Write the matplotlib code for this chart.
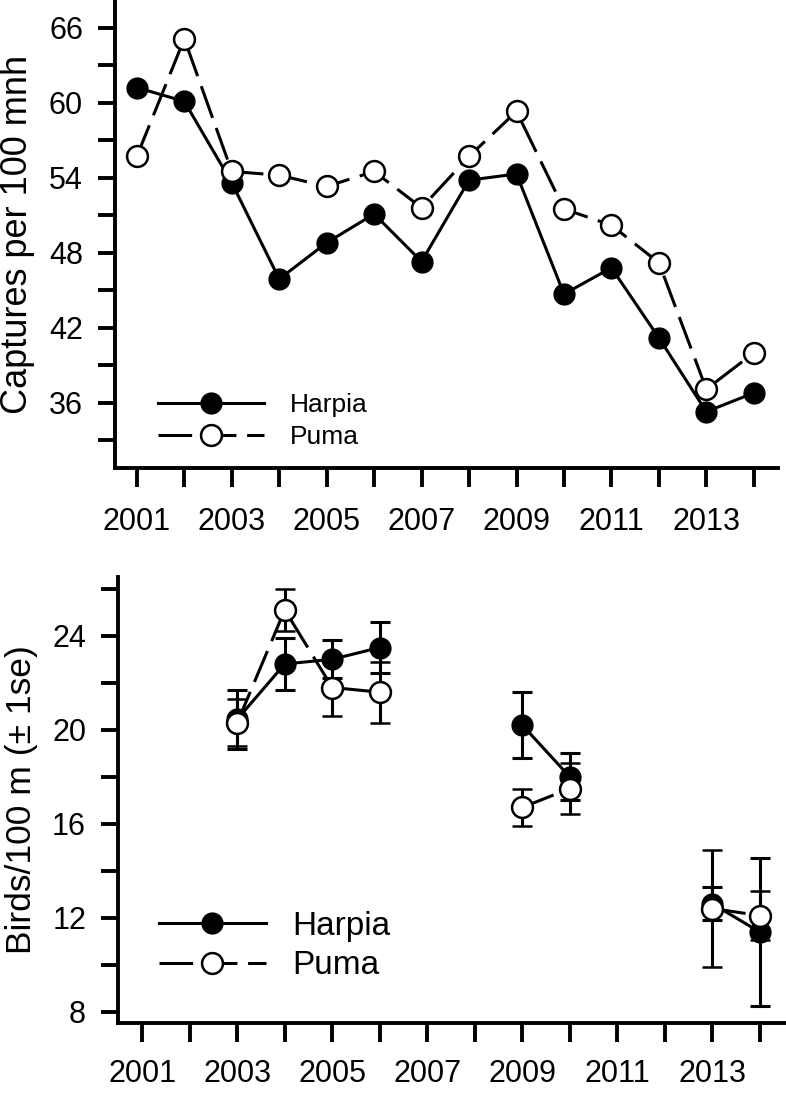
import matplotlib
matplotlib.use("Agg")
import matplotlib.pyplot as plt
from matplotlib.lines import Line2D
import numpy as np

plt.rcParams['font.family'] = ['Liberation Sans', 'DejaVu Sans']

years = np.arange(2001, 2015)

# top panel: captures per 100 mnh
harpia_capt = [61.2, 60.1, 53.6, 45.9, 48.8, 51.1, 47.3, 53.8, 54.3, 44.7, 46.8, 41.2, 35.3, 36.8]
puma_capt = [55.7, 65.1, 54.5, 54.2, 53.3, 54.5, 51.6, 55.7, 59.3, 51.5, 50.2, 47.2, 37.1, 40.0]

# bottom panel: birds / 100 m with 1 se (nan = not surveyed)
nan = np.nan
harpia_dens = [nan, nan, 20.45, 22.8, 23.0, 23.5, nan, nan, 20.2, 18.0, nan, nan, 12.6, 11.4]
harpia_se = [nan, nan, 1.25, 1.1, 0.8, 1.1, nan, nan, 1.4, 1.0, nan, nan, 0.7, 3.15]
puma_dens = [nan, nan, 20.3, 25.1, 21.8, 21.6, nan, nan, 16.7, 17.5, nan, nan, 12.4, 12.1]
puma_se = [nan, nan, 1.0, 0.9, 1.2, 1.3, nan, nan, 0.8, 1.1, nan, nan, 2.5, 1.05]

W, H = 786, 1106
fig = plt.figure(figsize=(W / 100, H / 100), dpi=100)

def px_axes(l, t, r, b):
    return fig.add_axes([l / W, 1 - b / H, (r - l) / W, (b - t) / H])

ax1 = px_axes(115, 0, 778, 468)
ax2 = px_axes(118, 577, 785, 1023)

lw = 2.2
dash = (0, (11, 3.5))
ms = 15

def style(ax, yt, ymin, label, xpad, lsize):
    for s in ['top', 'right']:
        ax.spines[s].set_visible(False)
    for s in ['left', 'bottom']:
        ax.spines[s].set_linewidth(2.8)
    ax.set_xticks(years)
    ax.set_xticklabels([str(y) if y % 2 == 1 else '' for y in years])
    ax.set_yticks(yt)
    ax.set_yticks(ymin, minor=True)
    ax.tick_params(axis='x', length=14, width=2.8, labelsize=22, pad=xpad)
    ax.tick_params(axis='y', which='both', length=12, width=2.8, labelsize=22, pad=11)
    ax.set_ylabel(label, fontsize=lsize, labelpad=10)

def handles():
    return [Line2D([], [], color='black', lw=lw, marker='o', ms=ms, mfc='black', mec='black'),
            Line2D([], [], color='black', lw=lw, ls=dash, marker='o', ms=ms,
                   mfc='white', mec='black', mew=1.8)]

# ---- top panel
ax1.plot(years, harpia_capt, color='black', lw=lw, marker='o', ms=ms,
         mfc='black', mec='black', zorder=3)
ax1.plot(years, puma_capt, color='black', lw=lw, ls=dash, marker='o', ms=ms,
         mfc='white', mec='black', mew=1.8, zorder=4)
ax1.set_xlim(2000.54, 2014.51)
ax1.set_ylim(30.8, 68.2)
style(ax1, [36, 42, 48, 54, 60, 66], [33, 39, 45, 51, 57, 63],
      'Captures per 100 mnh', 14, 26)
ax1.legend(handles(), ['Harpia', 'Puma'], loc='center left',
           bbox_to_anchor=(0.065, 0.10), frameon=False,
           fontsize=19, handlelength=4.0, handletextpad=1.0, borderpad=0,
           borderaxespad=0, labelspacing=0.3)

# ---- bottom panel
ax2.errorbar(years, harpia_dens, yerr=harpia_se, color='black', lw=lw,
             marker='o', ms=ms, mfc='black', mec='black', elinewidth=2.2,
             capsize=7, capthick=2.2, zorder=3)
ax2.errorbar(years, puma_dens, yerr=puma_se, color='black', lw=lw, ls=dash,
             marker='o', ms=ms, mfc='white', mec='black', mew=1.8,
             elinewidth=2.2, capsize=7, capthick=2.2, zorder=4)
ax2.set_xlim(2000.49, 2014.53)
ax2.set_ylim(7.53, 26.5)
style(ax2, [8, 12, 16, 20, 24], [10, 14, 18, 22, 26],
      'Birds/100 m (\u00b1 1se)', 12, 25.5)
ax2.legend(handles(), ['Harpia', 'Puma'], loc='center left',
           bbox_to_anchor=(0.0616, 0.1726), frameon=False, fontsize=24,
           handlelength=3.2, handletextpad=0.8, borderpad=0,
           borderaxespad=0, labelspacing=0.25)

fig.savefig('out.png', dpi=100)
